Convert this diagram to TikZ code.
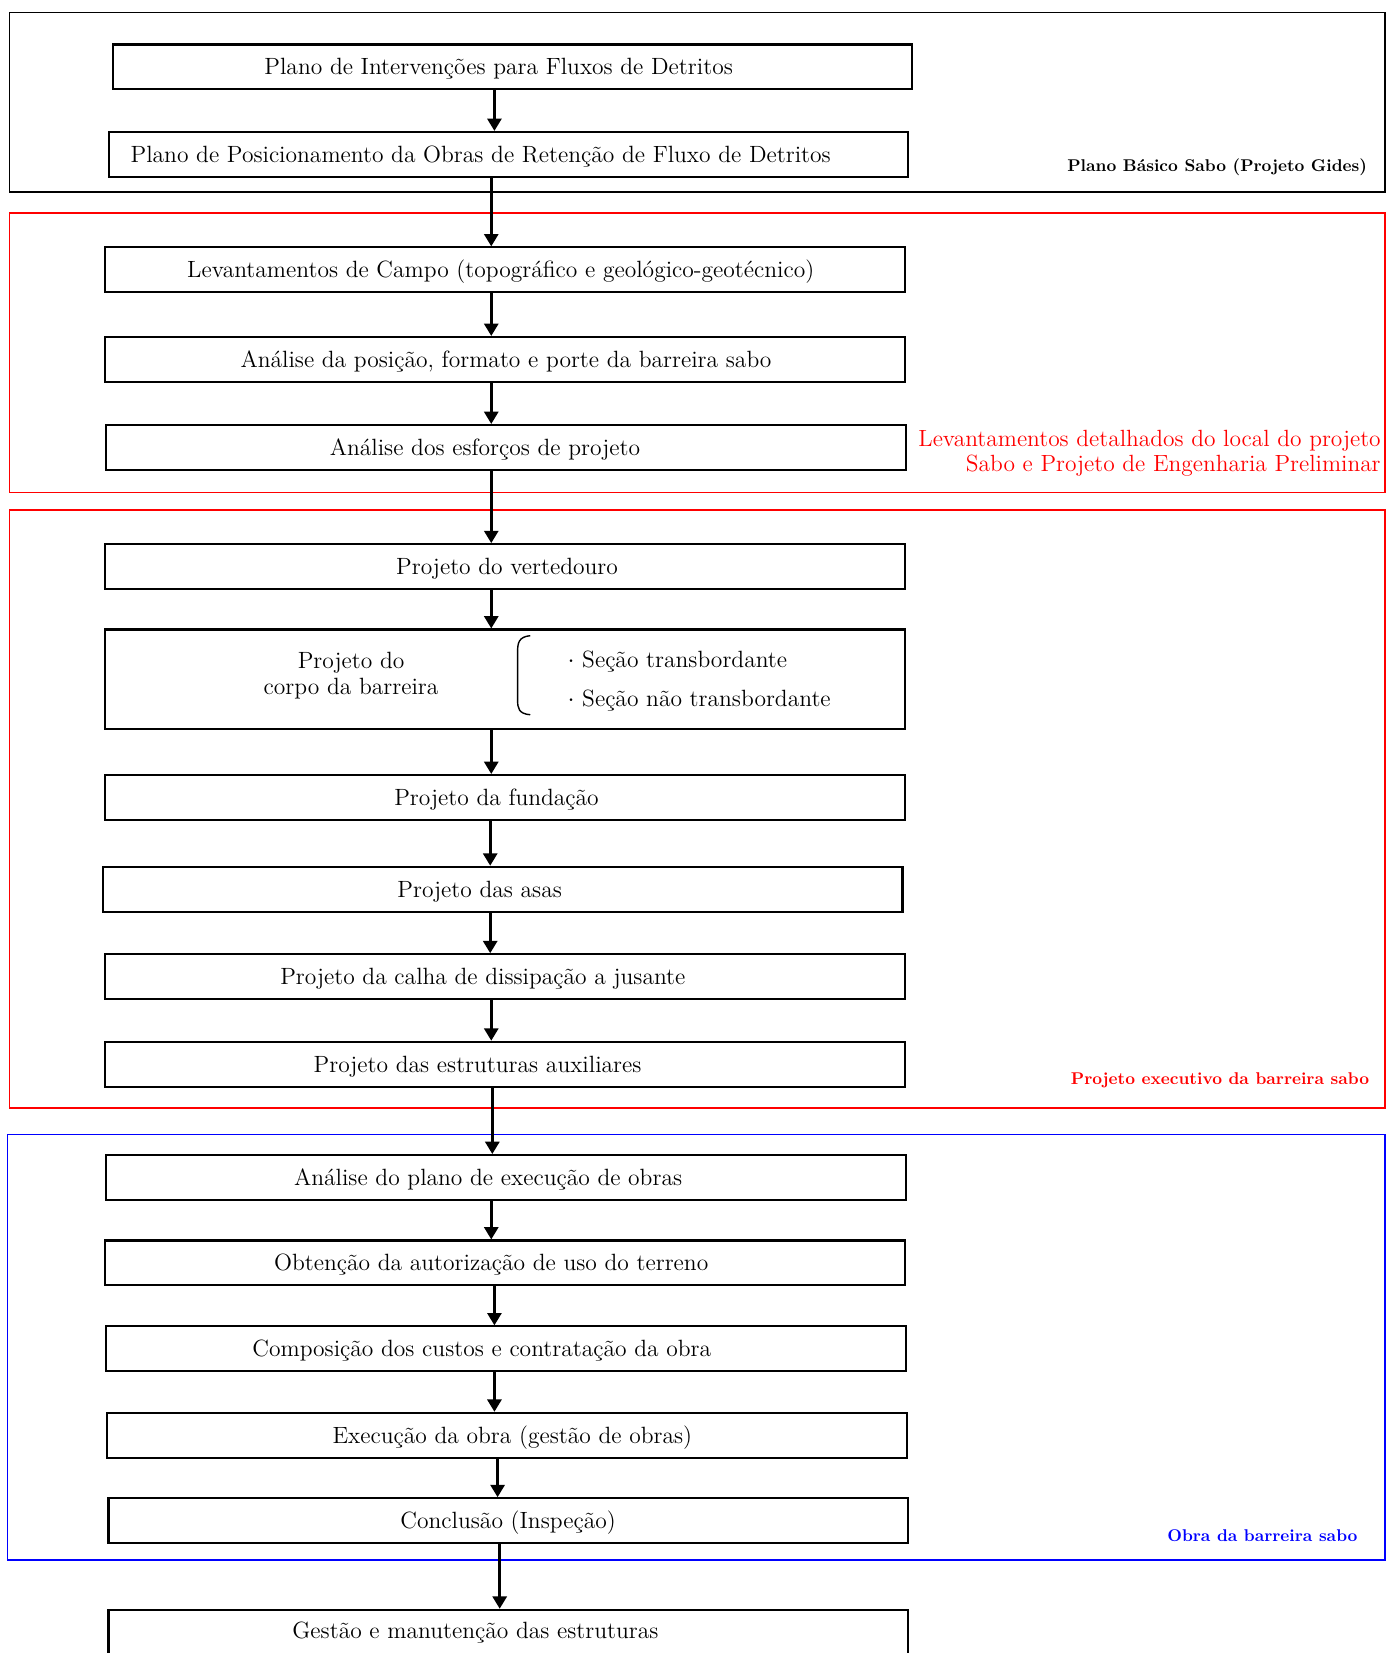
\documentclass[tikz,border=0pt]{standalone}
\usepackage{fontspec}
\usetikzlibrary{arrows.meta}
\tikzset{>={Triangle[length=7pt,width=8pt]}}
\colorlet{redcol}{red}
\colorlet{bluecol}{blue}

\tikzset{
	etapa/.style={draw,line width=1.2pt,minimum width=16cm,minimum height=0.9cm,inner sep=0pt},
	rotulo/.style={font=\fontsize{13.4}{15}\selectfont,inner sep=0pt,yshift=-1.2pt},
	fase/.style={font=\bfseries\fontsize{9.7}{11}\selectfont,inner sep=0pt,anchor=east},
	seta/.style={->,line width=1.5pt},
	moldura/.style={line width=0.9pt},
}

\begin{document}
\begin{tikzpicture}[x=0.0211cm,y=-0.0211cm]
	\useasboundingbox (0,0) rectangle (1315,1568);
	
	% FRAMES
	\draw[moldura] (9,12) rectangle (1314,182);
	\draw[moldura,redcol] (9,202) rectangle (1314,467);
	\draw[moldura,redcol] (9,484) rectangle (1314,1051);
	\draw[moldura,bluecol] (7,1076) rectangle (1314,1480);
	
	\node[fase] (f1) at (1297,159) {Plano Básico  Sabo (Projeto Gides)};
	\node[fase,font=\fontsize{13.35}{14}\selectfont,align=right,redcol] (f2) at (1310,430)
	{Levantamentos detalhados do local do projeto\\Sabo e Projeto de Engenharia Preliminar};
	\node[fase,redcol] (f3) at (1299,1025) {Projeto executivo da barreira sabo};
	\node[fase,bluecol] (f4) at (1288,1457) {Obra da barreira sabo};
	
	% BOXES
	\node[etapa] (b1) at (486,63.5) {};
	\node[etapa] (b2) at (482.5,146.5) {};
	\node[etapa] (b3) at (479,256) {};
	\node[etapa] (b4) at (479,341) {};
	\node[etapa] (b5) at (480,424.5) {};
	\node[etapa] (b6) at (479,537.5) {};
	\node[etapa,minimum height=2cm] (b7) at (479,644.5) {};
	\node[etapa] (b8) at (479,756.5) {};
	\node[etapa] (b9) at (477,843.5) {};
	\node[etapa] (b10) at (479,926.5) {};
	\node[etapa] (b11) at (479,1009.5) {};
	\node[etapa] (b12) at (480,1117) {};
	\node[etapa] (b13) at (479,1198) {};
	\node[etapa] (b14) at (480,1279.5) {};
	\node[etapa] (b15) at (481,1361.5) {};
	\node[etapa] (b16) at (482,1442.5) {};
	\node[etapa,minimum height=0.95cm] (b17) at (482,1549.5) {};
	
	% TEXTS
	\node[rotulo] (t1) at (473,63.5) {Plano de Intervenções para Fluxos de Detritos};
	\node[rotulo] (t2) at (456,146.5) {Plano de Posicionamento da Obras de Retenção de Fluxo de Detritos};
	\node[rotulo] (t3) at (475,256) {Levantamentos de Campo (topográfico e geológico-geotécnico)};
	\node[rotulo] (t4) at (480,341) {Análise da posição, formato e porte da barreira sabo};
	\node[rotulo] (t5) at (460,424.5) {Análise dos esforços de projeto};
	\node[rotulo] (t6) at (481,537.5) {Projeto do vertedouro};
	\node[rotulo,align=center] (t7) at (333,639) {Projeto do\\corpo da barreira};
	\node[rotulo,align=left,anchor=west,font=\fontsize{13.4}{22}\selectfont] (t7b) at (538,644)
	{$\cdot$ Seção transbordante\\$\cdot$ Seção não transbordante};
	\node[rotulo] (t8) at (471,756.5) {Projeto da fundação};
	\node[rotulo] (t9) at (455,843.5) {Projeto das asas};
	\node[rotulo] (t10) at (458,926.5) {Projeto da calha de dissipação a jusante};
	\node[rotulo] (t11) at (453,1009.5) {Projeto das estruturas auxiliares};
	\node[rotulo] (t12) at (463,1117) {Análise do plano de execução de obras};
	\node[rotulo] (t13) at (466,1198) {Obtenção da autorização de uso do terreno};
	\node[rotulo] (t14) at (457,1279.5) {Composição dos custos e contratação da obra};
	\node[rotulo] (t15) at (486,1361.5) {Execução da obra (gestão de obras)};
	\node[rotulo] (t16) at (482,1442.5) {Conclusão (Inspeção)};
	\node[rotulo] (t17) at (451,1547) {Gestão e manutenção das estruturas};
	
	% brace
	\draw[line width=0.8pt] (503,603) .. controls (492,604) and (491,610) .. (491,618)
	-- (491,664) .. controls (491,672) and (492,677) .. (503,678);
	
	% ARROWS
	\draw[seta] (469,0 |- b1.south) -- (469,0 |- b2.north);
	\draw[seta] (466,0 |- b2.south) -- (466,0 |- b3.north);
	\draw[seta] (466,0 |- b3.south) -- (466,0 |- b4.north);
	\draw[seta] (466,0 |- b4.south) -- (466,0 |- b5.north);
	\draw[seta] (466,0 |- b5.south) -- (466,0 |- b6.north);
	\draw[seta] (466,0 |- b6.south) -- (466,0 |- b7.north);
	\draw[seta] (466,0 |- b7.south) -- (466,0 |- b8.north);
	\draw[seta] (465,0 |- b8.south) -- (465,0 |- b9.north);
	\draw[seta] (465,0 |- b9.south) -- (465,0 |- b10.north);
	\draw[seta] (466,0 |- b10.south) -- (466,0 |- b11.north);
	\draw[seta] (467,0 |- b11.south) -- (467,0 |- b12.north);
	\draw[seta] (466,0 |- b12.south) -- (466,0 |- b13.north);
	\draw[seta] (469,0 |- b13.south) -- (469,0 |- b14.north);
	\draw[seta] (469,0 |- b14.south) -- (469,0 |- b15.north);
	\draw[seta] (472,0 |- b15.south) -- (472,0 |- b16.north);
	\draw[seta] (474,0 |- b16.south) -- (474,0 |- b17.north);
\end{tikzpicture}
\end{document}
